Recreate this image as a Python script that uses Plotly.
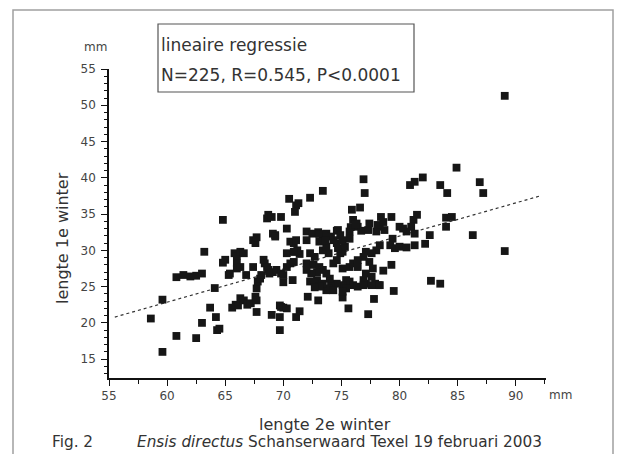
import plotly.graph_objects as go

# lengte 2e winter (mm) / lengte 1e winter (mm)
lengte_2e = [
    58.6, 59.6, 59.6, 60.8, 60.8, 61.4, 62.0, 62.5, 62.5, 63.0, 63.0, 63.2, 63.7, 64.1, 64.2, 64.3, 64.5, 64.8, 65.0, 64.8,
    65.6, 65.9, 66.1, 65.3, 65.4, 65.8, 66.0, 66.3, 66.6, 66.0, 66.0, 66.3, 66.3, 66.6, 66.9, 67.2, 66.8, 67.4, 67.4, 67.6,
    67.7, 67.6, 67.7, 67.7, 67.7, 67.8, 68.0, 68.1, 68.3, 68.4, 68.6, 68.7, 68.8, 69.1, 69.0, 69.3, 69.4, 69.8, 70.0, 70.3,
    70.6, 70.9, 69.7, 69.8, 70.0, 70.3, 69.7, 69.7, 70.3, 70.6, 70.9, 71.1, 70.8, 71.0, 71.4, 71.2, 71.1, 71.4, 72.0, 72.1,
    73.0, 73.7, 73.9,
    68.6, 68.7, 69.0, 69.8, 70.5, 71.1, 71.3, 71.0, 72.3, 73.4, 69.1, 69.3, 72.5, 73.0, 73.4,
    89.05, 84.9, 76.9, 77.0, 80.9, 81.3, 82.0, 83.5, 84.1, 86.9, 87.2, 75.9, 76.6, 76.0, 76.3, 76.4, 78.4, 79.3, 78.3, 78.7,
    81.5, 81.2, 81.0, 84.0, 84.5, 84.0, 73.1, 73.7, 74.6, 75.7, 76.7, 77.3, 78.0, 80.0, 80.6, 81.3, 82.6, 86.3,
    89.05, 82.7, 83.5, 79.5, 81.3, 82.2, 75.1, 75.6, 77.3, 77.8,
    74.7, 75.8, 76.2, 77.4, 78.1, 78.6, 80.3,
    79.4, 79.2, 79.6, 80.0, 80.6, 78.3, 78.0, 77.6, 77.1,
    76.9, 77.4, 77.7, 77.1, 77.6, 77.9, 78.2, 77.1, 76.9,
    75.4, 75.7, 76.0, 75.1, 74.6, 74.1, 74.0, 73.9, 74.3, 75.4,
    75.1, 75.7, 76.0, 76.4, 76.4,
    74.9, 75.1, 75.3, 74.7, 74.6, 74.3, 74.1, 75.1, 75.7, 74.9,
    72.3, 72.7, 72.0, 72.6, 73.1, 73.4, 72.9, 73.7, 72.4, 72.0,
    73.4, 73.7, 73.1, 73.6, 72.0,
    74.3, 74.6,
    72.9, 73.4, 73.1,
    75.1, 76.4, 76.9, 77.6, 78.3,
    72.3, 72.7, 78.6, 79.3, 70.0, 70.3, 70.9,
]
lengte_1e = [
    20.6, 23.2, 16.0, 18.2, 26.3, 26.6, 26.4, 26.5, 17.9, 26.8, 20.0, 29.8, 22.1, 24.8, 20.8, 19.0, 19.2, 34.2, 28.7, 28.3,
    22.1, 22.5, 22.4, 26.6, 26.8, 29.6, 29.2, 29.8, 29.6, 28.2, 27.5, 27.7, 23.4, 23.1, 22.5, 22.7, 26.6, 27.7, 31.4, 31.0,
    31.8, 23.6, 23.1, 21.5, 24.75, 25.7, 26.1, 26.6, 28.7, 28.2, 27.7, 27.3, 26.8, 27.0, 21.1, 32.1, 27.3, 26.8, 26.6, 27.7,
    28.2, 28.4, 22.4, 22.2, 22.1, 22.0, 20.8, 19.0, 33.0, 31.2, 31.0, 31.4, 25.9, 29.8, 29.5, 30.0, 20.8, 21.6, 32.6, 23.6,
    23.1, 24.5, 29.6,
    34.4, 34.9, 34.6, 34.6, 37.1, 36.2, 36.5, 35.3, 37.25, 38.2, 32.3, 31.9, 32.3, 32.5, 32.2,
    51.3, 41.4, 39.8, 37.9, 39.0, 39.45, 40.05, 39.0, 37.9, 39.4, 37.9, 35.6, 35.9, 34.2, 33.7, 33.25, 34.6, 34.6, 33.25, 32.8,
    34.9, 34.2, 33.25, 34.5, 34.6, 33.25, 32.25, 32.3, 32.7, 32.6, 32.7, 32.8, 32.6, 33.25, 32.6, 32.3, 32.1, 32.1,
    29.9, 25.8, 25.4, 24.4, 30.7, 30.9, 23.5, 22.0, 21.2, 23.3,
    32.8, 33.2, 33.6, 33.7, 33.5, 33.9, 33.0,
    31.6, 30.7, 30.3, 30.5, 30.4, 30.7, 30.0, 29.6, 29.8,
    29.1, 28.4, 27.5, 26.8, 26.35, 25.4, 25.2, 25.4, 25.9,
    25.9, 25.7, 25.2, 25.2, 25.4, 25.2, 26.1, 24.75, 24.5, 24.75,
    27.5, 27.7, 28.2, 27.7, 28.65,
    29.6, 29.8, 30.5, 30.3, 31.0, 31.4, 31.9, 31.4, 31.6, 32.1,
    29.6, 29.1, 28.2, 28.0, 27.7, 27.3, 27.0, 26.8, 26.8, 27.3,
    30.0, 30.5, 31.2, 31.4, 31.4,
    28.2, 28.65,
    25.9, 25.4, 25.0,
    24.3, 25.0, 25.2, 25.2, 25.2,
    25.7, 24.9, 27.2, 28.0, 25.6, 29.6, 29.8,
]

# regression line end points
regressie_x = [55.5, 92.1]
regressie_y = [20.8, 37.5]

x_ticks = [55, 60, 65, 70, 75, 80, 85, 90]
y_ticks = [15, 20, 25, 30, 35, 40, 45, 50, 55]

legend_lines = ["lineaire regressie", "N=225, R=0.545, P<0.0001"]

FONT = "DejaVu Sans, Liberation Sans, Arial, sans-serif"
W, H = 619, 454
L, R, T, B = 109, 546, 69, 378


def px(x):
    return (x - L) / (R - L)


def py(y):
    return (B - y) / (B - T)


fig = go.Figure()
fig.add_trace(go.Scatter(
    x=regressie_x, y=regressie_y, mode="lines",
    line=dict(color="#333333", width=1.2, dash="dot"),
    hoverinfo="skip", showlegend=False,
))
fig.add_trace(go.Scatter(
    x=lengte_2e, y=lengte_1e, mode="markers",
    marker=dict(symbol="square", size=7.8, color="#161616", line=dict(width=0)),
    showlegend=False,
))

axis_common = dict(
    showline=True, linecolor="#111111", showgrid=False, zeroline=False,
    ticks="outside", ticklen=6, tickwidth=1.2, tickcolor="#111111",
    tickfont=dict(family=FONT, size=12, color="#444444"),
)
fig.update_xaxes(range=[55, 92.6], tickvals=x_ticks, linewidth=2,
                 minor=dict(ticks="outside", ticklen=4, tickwidth=1, tickcolor="#111111", dtick=2.5, tick0=55),
                 **axis_common)
fig.update_yaxes(range=[12.4, 55], tickvals=y_ticks, linewidth=1.5, ticklabelstandoff=3,
                 minor=dict(ticks="outside", ticklen=3, tickwidth=1, tickcolor="#111111", dtick=1, tick0=0),
                 **axis_common)

shapes = [
    dict(type="rect", xref="paper", yref="paper", x0=px(13), x1=px(613), y0=py(10), y1=py(470),
         line=dict(color="#a0a0a0", width=1.5), layer="below"),
    dict(type="rect", xref="paper", yref="paper", x0=px(158), x1=px(414), y0=py(24), y1=py(92),
         line=dict(color="#555555", width=1.2), fillcolor="rgba(0,0,0,0)"),
]

ann = []
def add(text, x, y, size, xanchor="center", angle=0, color="#333333"):
    ann.append(dict(text=text, x=px(x), y=py(y), xref="paper", yref="paper", showarrow=False,
                    xanchor=xanchor, yanchor="middle", textangle=angle, borderpad=0,
                    font=dict(family=FONT, size=size, color=color)))

add(legend_lines[0], 160, 45, 17, xanchor="left")
add(legend_lines[1], 160, 75, 17, xanchor="left")
add("mm", 95, 47, 12, color="#444444")
add("mm", 560, 395, 12, color="#444444")
add("lengte 2e winter", 325, 424, 16)
add("lengte 1e winter", 62, 238, 16, angle=-90)
add("Fig. 2", 51, 442, 15.3, xanchor="left")
add("<i>Ensis directus</i> Schanserwaard Texel 19 februari 2003", 136, 442, 15.3, xanchor="left")

fig.update_layout(
    width=W, height=H,
    margin=dict(l=L, r=W - R, t=T, b=H - B),
    paper_bgcolor="white", plot_bgcolor="white",
    shapes=shapes, annotations=ann,
    showlegend=False,
)

fig.write_html("out.html", config={"displayModeBar": False},
               post_script="document.body.style.margin='0';document.body.style.overflow='hidden';")
